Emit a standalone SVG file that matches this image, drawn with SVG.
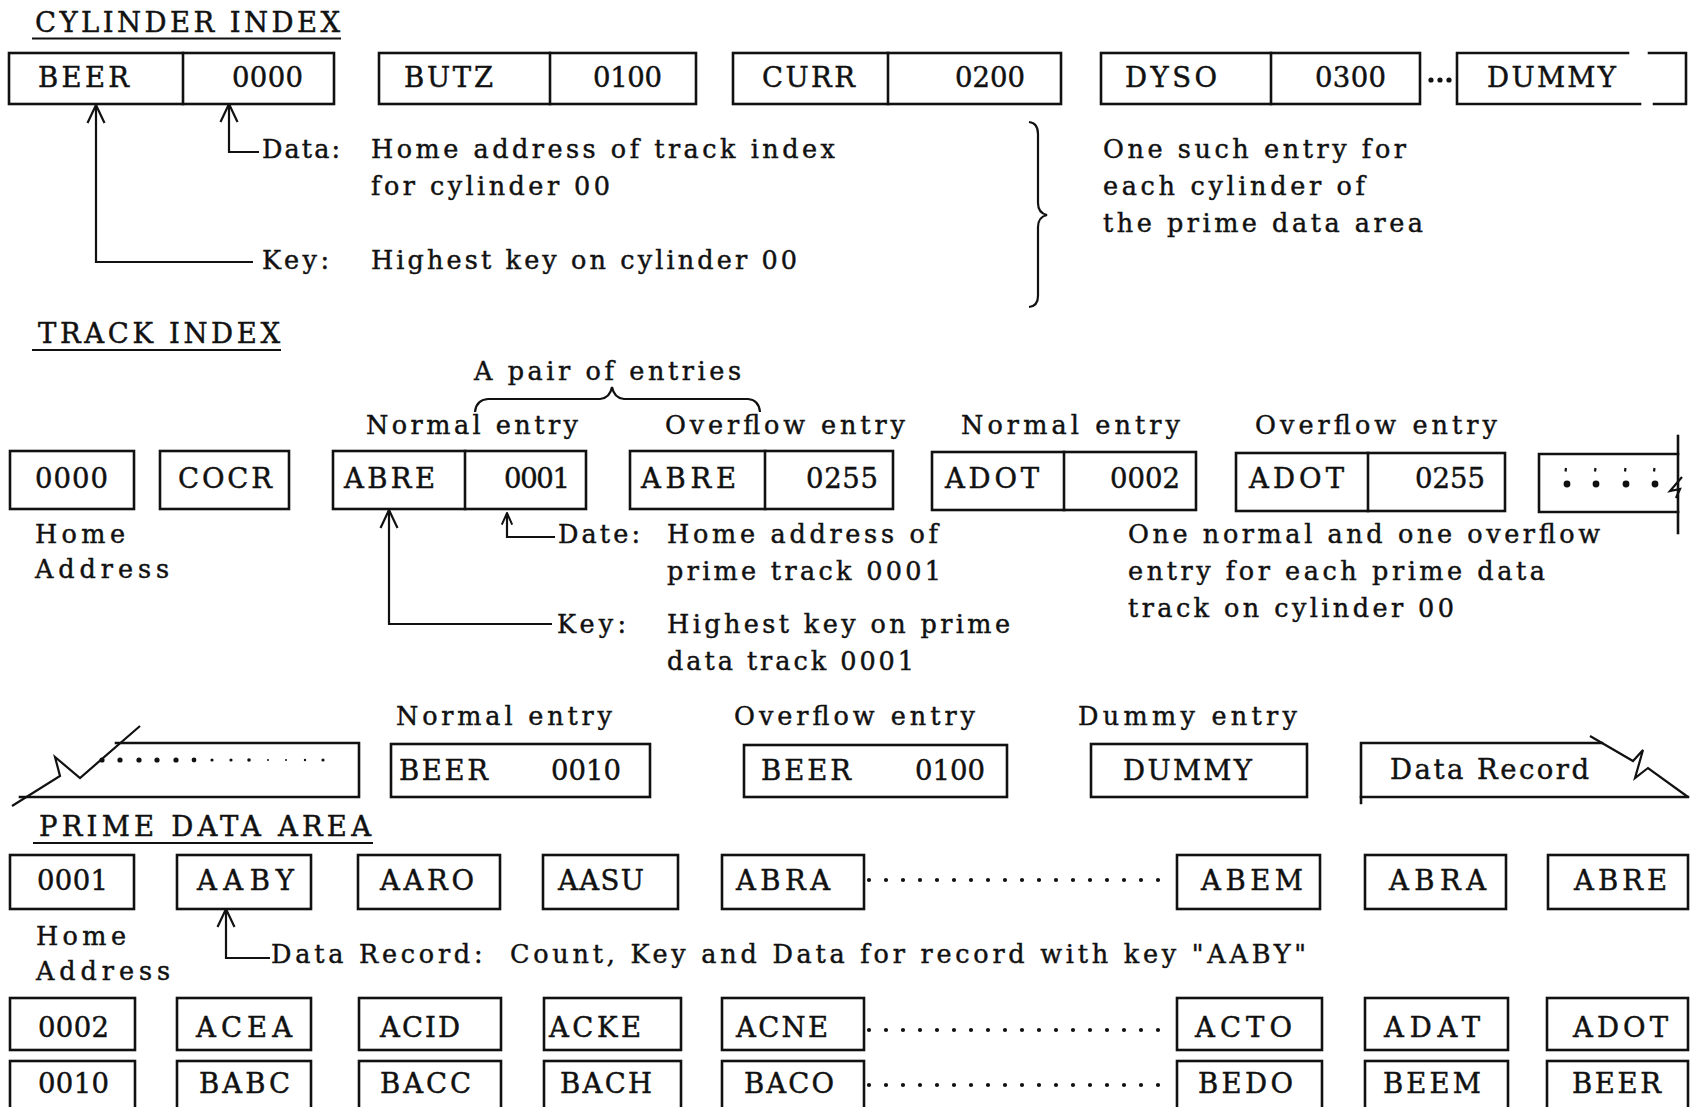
<svg xmlns="http://www.w3.org/2000/svg" width="1690" height="1107" viewBox="0 0 1690 1107">
<style>
  text { font-family: "DejaVu Serif", "Liberation Serif", serif; fill: #111; stroke: #111; stroke-width: 0.45; }
  .lbl { font-size: 27.5px; }
  .txt { font-size: 25.5px; }
  .ttl { font-size: 27.5px; }
  .box { fill: none; stroke: #111; stroke-width: 2.6; stroke-linecap: square; }
  .ln { fill: none; stroke: #111; stroke-width: 2.2; }
  .ul { stroke: #111; stroke-width: 2; }
  .dot { fill: #111; }
  .arrow { fill: none; stroke: #111; stroke-width: 2.2; marker-start: url(#head); }
  .arrow-s { fill: none; stroke: #111; stroke-width: 2.2; marker-start: url(#headSmall); }
</style>
<defs>
  <marker id="head" markerUnits="userSpaceOnUse" viewBox="0 0 20 20" refX="19" refY="10" markerWidth="20" markerHeight="20" orient="auto-start-reverse">
    <path d="M1,1.5 L19,10 L1,18.5" fill="none" stroke="#111" stroke-width="2.2"/>
  </marker>
  <marker id="headSmall" markerUnits="userSpaceOnUse" viewBox="0 0 20 20" refX="19" refY="10" markerWidth="13" markerHeight="13" orient="auto-start-reverse">
    <path d="M1,2 L19,10 L1,18" fill="none" stroke="#111" stroke-width="3"/>
  </marker>
</defs>
<rect width="1690" height="1107" fill="#fff"/>

<!-- ===== Cylinder index ===== -->
<g id="cylinder-title">
  <text class="ttl" x="35" y="32" textLength="305" lengthAdjust="spacing">CYLINDER INDEX</text>
  <line class="ul" x1="32" y1="38.5" x2="341" y2="38.5"/>
</g>
<g id="cyl-beer">
  <rect class="box" x="9" y="53" width="325" height="51"/>
  <line class="box" x1="183" y1="53" x2="183" y2="104"/>
  <text class="lbl" x="38" y="87" textLength="91" lengthAdjust="spacing">BEER</text>
  <text class="lbl" x="232" y="87" textLength="71" lengthAdjust="spacing">0000</text>
</g>
<g id="cyl-butz">
  <rect class="box" x="379" y="53" width="317" height="51"/>
  <line class="box" x1="550" y1="53" x2="550" y2="104"/>
  <text class="lbl" x="404" y="87" textLength="89" lengthAdjust="spacing">BUTZ</text>
  <text class="lbl" x="593" y="87" textLength="69" lengthAdjust="spacing">0100</text>
</g>
<g id="cyl-curr">
  <rect class="box" x="733" y="53" width="328" height="51"/>
  <line class="box" x1="888" y1="53" x2="888" y2="104"/>
  <text class="lbl" x="762" y="87" textLength="93" lengthAdjust="spacing">CURR</text>
  <text class="lbl" x="955" y="87" textLength="70" lengthAdjust="spacing">0200</text>
</g>
<g id="cyl-dyso">
  <rect class="box" x="1101" y="53" width="319" height="51"/>
  <line class="box" x1="1271" y1="53" x2="1271" y2="104"/>
  <text class="lbl" x="1125" y="87" textLength="92" lengthAdjust="spacing">DYSO</text>
  <text class="lbl" x="1315" y="87" textLength="71" lengthAdjust="spacing">0300</text>
</g>
<g id="cyl-ellipsis">
  <circle class="dot" cx="1431" cy="80" r="2.6"/>
  <circle class="dot" cx="1440" cy="80" r="2.6"/>
  <circle class="dot" cx="1449" cy="80" r="2.6"/>
</g>
<g id="cyl-dummy">
  <path class="box" d="M1628,53 L1457,53 L1457,104 L1640,104"/>
  <path class="box" d="M1649,53 L1686,53 L1686,104 L1654,104"/>
  <text class="lbl" x="1487" y="87" textLength="129" lengthAdjust="spacing">DUMMY</text>
</g>
<g id="cyl-notes">
  <text class="txt" x="262" y="158" textLength="78" lengthAdjust="spacing">Data:</text>
  <text class="txt" x="371" y="158" textLength="464" lengthAdjust="spacing">Home address of track index</text>
  <text class="txt" x="371" y="195" textLength="239" lengthAdjust="spacing">for cylinder 00</text>
  <text class="txt" x="262" y="269" textLength="67" lengthAdjust="spacing">Key:</text>
  <text class="txt" x="371" y="269" textLength="426" lengthAdjust="spacing">Highest key on cylinder 00</text>
  <path class="ln" stroke-width="2.5" d="M1029,122 Q1038,123 1038,134 L1038,203 Q1038,213 1047,215 Q1038,217 1038,227 L1038,296 Q1038,306 1029,307"/>
  <text class="txt" x="1103" y="158" textLength="303" lengthAdjust="spacing">One such entry for</text>
  <text class="txt" x="1103" y="195" textLength="262" lengthAdjust="spacing">each cylinder of</text>
  <text class="txt" x="1103" y="232" textLength="320" lengthAdjust="spacing">the prime data area</text>
</g>

<!-- ===== Track index ===== -->
<g id="track-title">
  <text class="ttl" x="38" y="343" textLength="242" lengthAdjust="spacing">TRACK INDEX</text>
  <line class="ul" x1="32" y1="350" x2="281" y2="350"/>
</g>
<g id="track-pair-brace">
  <text class="txt" x="474" y="380" textLength="267" lengthAdjust="spacing">A pair of entries</text>
  <path class="ln" stroke-width="2.5" d="M475,412 Q476,400 488,399 L600,399 Q610,398 612,387 Q614,398 624,399 L748,399 Q759,400 760,412"/>
</g>
<g id="track-headers">
  <text class="txt" x="366" y="434" textLength="212" lengthAdjust="spacing">Normal entry</text>
  <text class="txt" x="665" y="434" textLength="240" lengthAdjust="spacing">Overflow entry</text>
  <text class="txt" x="961" y="434" textLength="219" lengthAdjust="spacing">Normal entry</text>
  <text class="txt" x="1255" y="434" textLength="242" lengthAdjust="spacing">Overflow entry</text>
</g>
<g id="trk-home">
  <rect class="box" x="10" y="451" width="124" height="58"/>
  <text class="lbl" x="35" y="488" textLength="73" lengthAdjust="spacing">0000</text>
  <text class="txt" x="35" y="543" textLength="90" lengthAdjust="spacing">Home</text>
  <text class="txt" x="35" y="578" textLength="134" lengthAdjust="spacing">Address</text>
</g>
<g id="trk-cocr">
  <rect class="box" x="160" y="451" width="129" height="58"/>
  <text class="lbl" x="178" y="488" textLength="94" lengthAdjust="spacing">COCR</text>
</g>
<g id="trk-normal-1">
  <rect class="box" x="333" y="451" width="253" height="58"/>
  <line class="box" x1="465" y1="451" x2="465" y2="509"/>
  <text class="lbl" x="344" y="488" textLength="91" lengthAdjust="spacing">ABRE</text>
  <text class="lbl" x="504" y="488" textLength="66" lengthAdjust="spacing">0001</text>
</g>
<g id="trk-overflow-1">
  <rect class="box" x="630" y="451" width="263" height="58"/>
  <line class="box" x1="765" y1="451" x2="765" y2="509"/>
  <text class="lbl" x="641" y="488" textLength="95" lengthAdjust="spacing">ABRE</text>
  <text class="lbl" x="806" y="488" textLength="72" lengthAdjust="spacing">0255</text>
</g>
<g id="trk-normal-2">
  <rect class="box" x="932" y="452" width="264" height="58"/>
  <line class="box" x1="1064" y1="452" x2="1064" y2="510"/>
  <text class="lbl" x="945" y="488" textLength="94" lengthAdjust="spacing">ADOT</text>
  <text class="lbl" x="1110" y="488" textLength="70" lengthAdjust="spacing">0002</text>
</g>
<g id="trk-overflow-2">
  <rect class="box" x="1236" y="453" width="269" height="58"/>
  <line class="box" x1="1368" y1="453" x2="1368" y2="511"/>
  <text class="lbl" x="1249" y="488" textLength="95" lengthAdjust="spacing">ADOT</text>
  <text class="lbl" x="1415" y="488" textLength="70" lengthAdjust="spacing">0255</text>
</g>
<g id="trk-more">
  <path class="box" d="M1678,454 L1539,454 L1539,512 L1678,512"/>
  <line class="box" x1="1678" y1="436" x2="1678" y2="533"/>
  <path class="ln" d="M1682,477 L1670,491 L1680,489 L1676,498"/>
  <circle class="dot" cx="1567" cy="484" r="3.4"/>
  <circle class="dot" cx="1596" cy="484" r="3.4"/>
  <circle class="dot" cx="1626" cy="484" r="3.4"/>
  <circle class="dot" cx="1655" cy="484" r="3.4"/>
  <path class="ln" stroke-width="1.3" d="M1566,468 L1565.5,471.5 M1595.5,468 L1595,471.5 M1625.5,468 L1625,471.5 M1654.5,468 L1654,471.5"/>
</g>
<g id="trk-notes">
  <text class="txt" x="558" y="543" textLength="82" lengthAdjust="spacing">Date:</text>
  <text class="txt" x="667" y="543" textLength="271" lengthAdjust="spacing">Home address of</text>
  <text class="txt" x="667" y="580" textLength="274" lengthAdjust="spacing">prime track 0001</text>
  <text class="txt" x="557" y="633" textLength="69" lengthAdjust="spacing">Key:</text>
  <text class="txt" x="667" y="633" textLength="343" lengthAdjust="spacing">Highest key on prime</text>
  <text class="txt" x="667" y="670" textLength="247" lengthAdjust="spacing">data track 0001</text>
  <text class="txt" x="1128" y="543" textLength="472" lengthAdjust="spacing">One normal and one overflow</text>
  <text class="txt" x="1128" y="580" textLength="417" lengthAdjust="spacing">entry for each prime data</text>
  <text class="txt" x="1128" y="617" textLength="326" lengthAdjust="spacing">track on cylinder 00</text>
</g>

<!-- ===== End of track index ===== -->
<g id="trk-end-headers">
  <text class="txt" x="396" y="725" textLength="216" lengthAdjust="spacing">Normal entry</text>
  <text class="txt" x="734" y="725" textLength="241" lengthAdjust="spacing">Overflow entry</text>
  <text class="txt" x="1078" y="725" textLength="219" lengthAdjust="spacing">Dummy entry</text>
</g>
<g id="trk-continued">
  <path class="box" d="M116,743 L359,743 L359,797 L20,797"/>
  <path class="ln" stroke-width="2.6" d="M12,806 L60,776 L55,757 L80,778 L140,726"/>
  <circle class="dot" cx="102" cy="760" r="2.6"/>
  <circle class="dot" cx="120" cy="760" r="2.6"/>
  <circle class="dot" cx="139" cy="760" r="2.6"/>
  <circle class="dot" cx="157" cy="760" r="2.6"/>
  <circle class="dot" cx="176" cy="760" r="2.6"/>
  <circle class="dot" cx="194" cy="760" r="2.4"/>
  <circle class="dot" cx="212" cy="760" r="1.6"/>
  <circle class="dot" cx="231" cy="760" r="1.6"/>
  <circle class="dot" cx="249" cy="760" r="1.8"/>
  <circle class="dot" cx="268" cy="760" r="1"/>
  <circle class="dot" cx="286" cy="760" r="1"/>
  <circle class="dot" cx="305" cy="760" r="1.2"/>
  <circle class="dot" cx="323" cy="760" r="1.6"/>
</g>
<g id="trk-normal-last">
  <rect class="box" x="391" y="744" width="259" height="53"/>
  <text class="lbl" x="399" y="780" textLength="89" lengthAdjust="spacing">BEER</text>
  <text class="lbl" x="551" y="780" textLength="70" lengthAdjust="spacing">0010</text>
</g>
<g id="trk-overflow-last">
  <rect class="box" x="744" y="745" width="263" height="52"/>
  <text class="lbl" x="761" y="780" textLength="90" lengthAdjust="spacing">BEER</text>
  <text class="lbl" x="915" y="780" textLength="70" lengthAdjust="spacing">0100</text>
</g>
<g id="trk-dummy">
  <rect class="box" x="1091" y="744" width="216" height="53"/>
  <text class="lbl" x="1123" y="780" textLength="129" lengthAdjust="spacing">DUMMY</text>
</g>
<g id="trk-data-record">
  <path class="box" d="M1602,743 L1361,743 L1361,803"/>
  <line class="box" x1="1361" y1="797" x2="1688" y2="797"/>
  <path class="ln" stroke-width="2.6" d="M1590,736 L1633,761 L1643,750 L1635,778 L1648,768 L1688,797"/>
  <text class="lbl" x="1390" y="779" textLength="199" lengthAdjust="spacing">Data Record</text>
</g>

<!-- ===== Prime data area ===== -->
<g id="prime-title">
  <text class="ttl" x="39" y="836" textLength="332" lengthAdjust="spacing">PRIME DATA AREA</text>
  <line class="ul" x1="33" y1="843" x2="373" y2="843"/>
</g>

<!-- track 0001 -->
<g id="pd1-home">
  <rect class="box" x="10" y="855" width="124" height="54"/>
  <text class="lbl" x="37" y="890" textLength="71" lengthAdjust="spacing">0001</text>
  <text class="txt" x="36" y="945" textLength="90" lengthAdjust="spacing">Home</text>
  <text class="txt" x="36" y="980" textLength="134" lengthAdjust="spacing">Address</text>
</g>
<g id="pd1-aaby"><rect class="box" x="177" y="855" width="134" height="54"/><text class="lbl" x="197" y="890" textLength="97" lengthAdjust="spacing">AABY</text></g>
<g id="pd1-aaro"><rect class="box" x="358" y="855" width="142" height="54"/><text class="lbl" x="380" y="890" textLength="94" lengthAdjust="spacing">AARO</text></g>
<g id="pd1-aasu"><rect class="box" x="543" y="855" width="135" height="54"/><text class="lbl" x="558" y="890" textLength="86" lengthAdjust="spacing">AASU</text></g>
<g id="pd1-abra"><rect class="box" x="722" y="855" width="142" height="54"/><text class="lbl" x="736" y="890" textLength="94" lengthAdjust="spacing">ABRA</text></g>
<g id="pd1-abem"><rect class="box" x="1177" y="855" width="143" height="54"/><text class="lbl" x="1201" y="890" textLength="102" lengthAdjust="spacing">ABEM</text></g>
<g id="pd1-abra2"><rect class="box" x="1365" y="855" width="141" height="54"/><text class="lbl" x="1389" y="890" textLength="97" lengthAdjust="spacing">ABRA</text></g>
<g id="pd1-abre"><rect class="box" x="1548" y="855" width="140" height="54"/><text class="lbl" x="1574" y="890" textLength="93" lengthAdjust="spacing">ABRE</text></g>
<g id="pd1-note">
  <text class="txt" x="271" y="963" textLength="1035" lengthAdjust="spacing">Data Record:&#160; Count, Key and Data for record with key "AABY"</text>
</g>

<!-- track 0002 -->
<g id="pd2-home"><rect class="box" x="10" y="998" width="125" height="52"/><text class="lbl" x="38" y="1037" textLength="71" lengthAdjust="spacing">0002</text></g>
<g id="pd2-acea"><rect class="box" x="177" y="998" width="134" height="52"/><text class="lbl" x="196" y="1037" textLength="96" lengthAdjust="spacing">ACEA</text></g>
<g id="pd2-acid"><rect class="box" x="359" y="998" width="142" height="52"/><text class="lbl" x="380" y="1037" textLength="80" lengthAdjust="spacing">ACID</text></g>
<g id="pd2-acke"><rect class="box" x="544" y="998" width="137" height="52"/><text class="lbl" x="549" y="1037" textLength="92" lengthAdjust="spacing">ACKE</text></g>
<g id="pd2-acne"><rect class="box" x="722" y="998" width="142" height="52"/><text class="lbl" x="736" y="1037" textLength="92" lengthAdjust="spacing">ACNE</text></g>
<g id="pd2-acto"><rect class="box" x="1177" y="998" width="145" height="52"/><text class="lbl" x="1195" y="1037" textLength="97" lengthAdjust="spacing">ACTO</text></g>
<g id="pd2-adat"><rect class="box" x="1365" y="998" width="143" height="52"/><text class="lbl" x="1384" y="1037" textLength="96" lengthAdjust="spacing">ADAT</text></g>
<g id="pd2-adot"><rect class="box" x="1547" y="998" width="141" height="52"/><text class="lbl" x="1573" y="1037" textLength="95" lengthAdjust="spacing">ADOT</text></g>

<!-- track 0010 -->
<g id="pd3-home"><rect class="box" x="10" y="1061" width="125" height="60"/><text class="lbl" x="38" y="1093" textLength="71" lengthAdjust="spacing">0010</text></g>
<g id="pd3-babc"><rect class="box" x="177" y="1061" width="134" height="60"/><text class="lbl" x="199" y="1093" textLength="91" lengthAdjust="spacing">BABC</text></g>
<g id="pd3-bacc"><rect class="box" x="359" y="1061" width="142" height="60"/><text class="lbl" x="380" y="1093" textLength="91" lengthAdjust="spacing">BACC</text></g>
<g id="pd3-bach"><rect class="box" x="544" y="1061" width="137" height="60"/><text class="lbl" x="560" y="1093" textLength="92" lengthAdjust="spacing">BACH</text></g>
<g id="pd3-baco"><rect class="box" x="722" y="1061" width="142" height="60"/><text class="lbl" x="744" y="1093" textLength="90" lengthAdjust="spacing">BACO</text></g>
<g id="pd3-bedo"><rect class="box" x="1177" y="1061" width="145" height="60"/><text class="lbl" x="1198" y="1093" textLength="95" lengthAdjust="spacing">BEDO</text></g>
<g id="pd3-beem"><rect class="box" x="1365" y="1061" width="143" height="60"/><text class="lbl" x="1383" y="1093" textLength="98" lengthAdjust="spacing">BEEM</text></g>
<g id="pd3-beer"><rect class="box" x="1547" y="1061" width="141" height="60"/><text class="lbl" x="1572" y="1093" textLength="89" lengthAdjust="spacing">BEER</text></g>

<!-- dotted runs between record boxes -->
<g id="record-gaps">
  <path fill="none" stroke="#111" stroke-width="4.2" stroke-linecap="round" stroke-dasharray="0 17" d="M869,880 L1160,880 M869,1030 L1160,1030 M869,1085 L1160,1085"/>
</g>

<!-- ===== Connectors ===== -->
<g id="connectors">
  <path class="arrow" d="M96,105 L96,262 L253,262"/>
  <path class="arrow" d="M229,104 L229,152 L259,152"/>
  <path class="arrow" d="M389,510 L389,624 L552,624"/>
  <path class="arrow-s" d="M507,513 L507,537 L555,537"/>
  <path class="arrow" d="M226,909 L226,958 L270,958"/>
</g>
</svg>
